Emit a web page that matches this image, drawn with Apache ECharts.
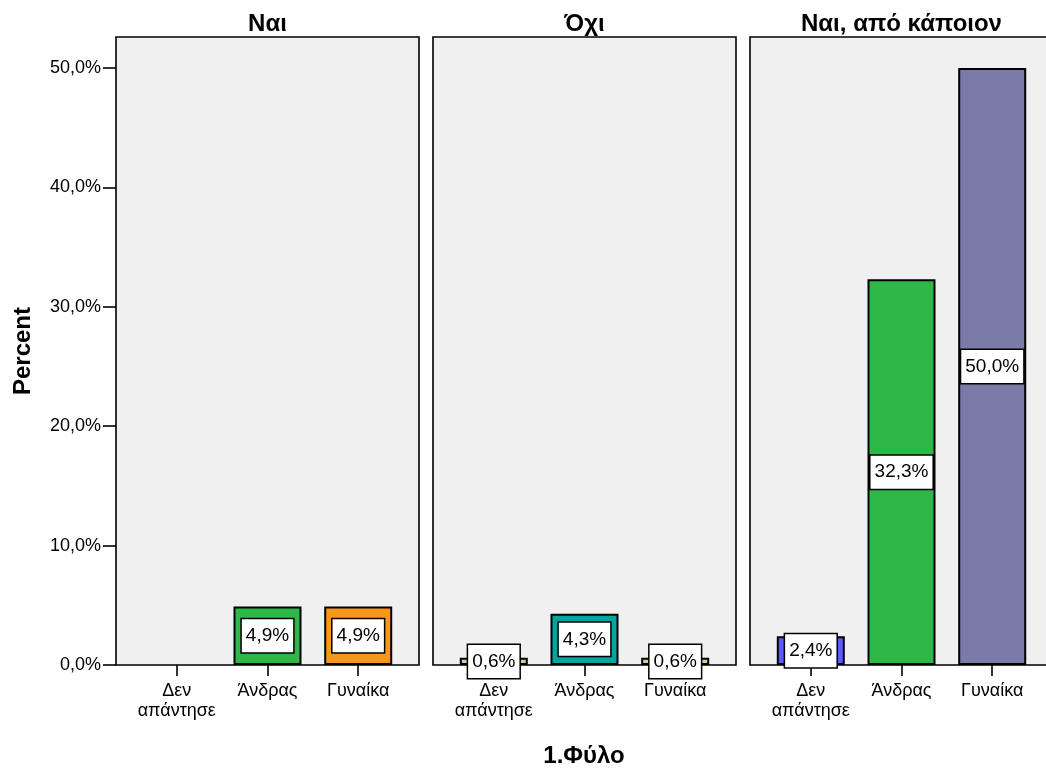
<!DOCTYPE html>
<html>
<head>
<meta charset="utf-8">
<script src="https://cdn.jsdelivr.net/npm/echarts@6/dist/echarts.min.js"></script>
<style>
  html, body { margin: 0; padding: 0; background: #fff; }
  #chart { width: 1046px; height: 771px; }
</style>
</head>
<body>
<div id="chart"></div>
<script>
// Gender categories on the x axis of every panel
const categories = ['Δεν\nαπάντησε', 'Άνδρας', 'Γυναίκα'];
// One panel per answer
const panelTitles = ['Ναι', 'Όχι', 'Ναι, από κάποιον'];
// Percent of respondents per gender, one array per panel (null = no bar)
const valuesNai = [null, 4.9, 4.9];
const valuesOxi = [0.6, 4.3, 0.6];
const valuesApoKapoion = [2.4, 32.3, 50.0];
// Percent ticks on the y axis
const yTicks = [0, 10, 20, 30, 40, 50];
// Bar fills per panel
const barColors = [
  ['#d3ce97', '#2eb848', '#f7981d'],
  ['#d3ce97', '#00a6a0', '#d3ce97'],
  ['#5b5bfb', '#2eb848', '#7b7ba9']
];

const panelValues = [valuesNai, valuesOxi, valuesApoKapoion];
const FONT = '"Liberation Sans", Arial, sans-serif';
const panelLeft = [116, 433, 750];
const panelWidth = 303;
const panelTop = 37;
const panelHeight = 628;
const yMax = 52.6;

const fmtPct = v => v.toFixed(1).replace('.', ',') + '%';

const grids = [], xAxes = [], yAxes = [], series = [];
panelValues.forEach((vals, i) => {
  grids.push({
    left: panelLeft[i], top: panelTop, width: panelWidth, height: panelHeight,
    show: true, backgroundColor: '#f0f0f0', borderColor: '#000', borderWidth: 1.6,
    containLabel: false, outerBoundsMode: 'none'
  });
  xAxes.push({
    type: 'value', gridIndex: i,
    min: -0.67, max: 2.67,
    axisLine: { show: false, onZero: false },
    splitLine: { show: false },
    axisTick: { show: true, length: 11, customValues: [0, 1, 2], lineStyle: { color: '#000', width: 1.6 } },
    axisLabel: {
      show: true, customValues: [0, 1, 2], margin: 16,
      formatter: v => categories[Math.round(v)],
      color: '#000', fontFamily: FONT, fontSize: 18, lineHeight: 20
    }
  });
  yAxes.push({
    type: 'value', gridIndex: i, min: 0, max: yMax, interval: 10,
    axisLine: { show: false, onZero: false },
    splitLine: { show: false },
    axisTick: { show: i === 0, length: 13, customValues: yTicks, lineStyle: { color: '#000', width: 1.6 } },
    axisLabel: {
      show: i === 0, customValues: yTicks, margin: 15,
      formatter: v => fmtPct(v),
      color: '#000', fontFamily: FONT, fontSize: 18
    }
  });
  const data = [];
  vals.forEach((v, k) => {
    if (v === null) return;
    data.push({ value: [k, v], itemStyle: { color: barColors[i][k] } });
  });
  series.push({
    type: 'bar', xAxisIndex: i, yAxisIndex: i, barWidth: 68,
    data: data,
    itemStyle: { borderColor: '#000', borderWidth: 2 },
    label: {
      show: true, position: 'inside',
      formatter: p => fmtPct(p.value[1]),
      color: '#000', fontFamily: FONT, fontSize: 19, lineHeight: 21,
      backgroundColor: '#fff', borderColor: '#000', borderWidth: 1.5,
      padding: [6, 4]
    },
    emphasis: { disabled: true },
    animation: false
  });
});

const graphics = panelTitles.map((t, i) => ({
  type: 'text', x: panelLeft[i] + panelWidth / 2, y: 24,
  style: { text: t, align: 'center', verticalAlign: 'middle', textAlign: 'center', textVerticalAlign: 'middle',
           font: 'bold 24px ' + FONT, fill: '#000' }
}));
graphics.push({
  type: 'text', x: 23, y: 351, rotation: Math.PI / 2,
  style: { text: 'Percent', align: 'center', verticalAlign: 'middle', textAlign: 'center', textVerticalAlign: 'middle',
           font: 'bold 24px ' + FONT, fill: '#000' }
});
graphics.push({
  type: 'text', x: 584, y: 756,
  style: { text: '1.Φύλο', align: 'center', verticalAlign: 'middle', textAlign: 'center', textVerticalAlign: 'middle',
           font: 'bold 24px ' + FONT, fill: '#000' }
});

const chart = echarts.init(document.getElementById('chart'), null, { renderer: 'canvas' });
chart.setOption({
  backgroundColor: '#fff',
  animation: false,
  grid: grids,
  xAxis: xAxes,
  yAxis: yAxes,
  series: series,
  graphic: graphics
});
</script>
</body>
</html>
